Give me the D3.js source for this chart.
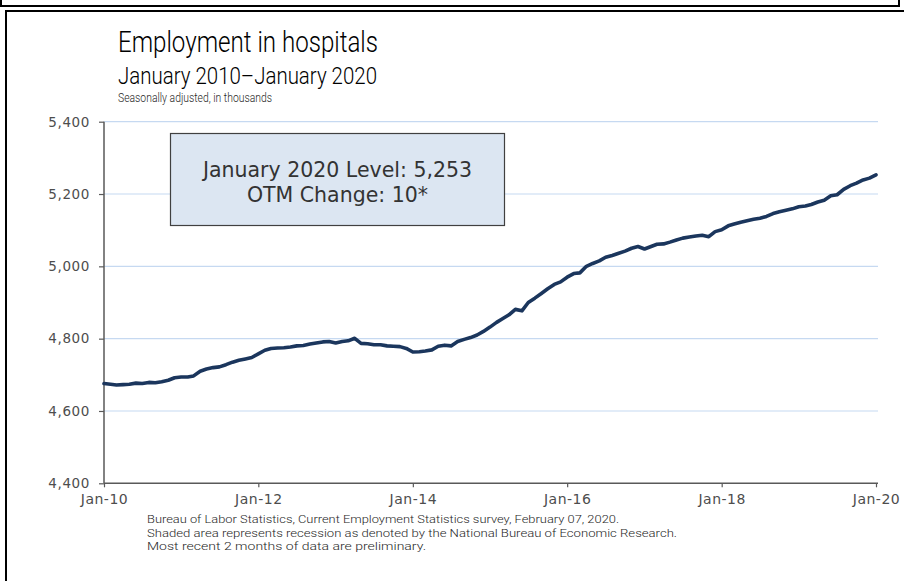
<!DOCTYPE html>
<html><head><meta charset="utf-8">
<script src="https://cdn.jsdelivr.net/npm/d3@7"></script>
<style>
html,body{margin:0;padding:0;background:#fff;}
svg{display:block;}
</style></head>
<body>
<svg id="chart" width="904" height="581"></svg>
<script>
// ---- Data (monthly, Jan 2010 – Jan 2020, thousands) ----
const startMonth = "2010-01";
const values = [
  4676, 4674, 4672, 4673, 4674, 4677, 4676, 4679, 4678, 4681, 4685, 4692,
  4694, 4694, 4697, 4710, 4716, 4720, 4722, 4728, 4735, 4740, 4744, 4748,
  4758, 4768, 4773, 4774, 4775, 4777, 4780, 4781, 4785, 4788, 4791, 4792,
  4788, 4792, 4794, 4801, 4787, 4786, 4783, 4783, 4780, 4779, 4778, 4773,
  4763, 4764, 4766, 4769, 4779, 4782, 4780, 4792, 4798, 4803, 4810, 4820,
  4832, 4845, 4855, 4866, 4881, 4877, 4900, 4912, 4925, 4938, 4950, 4957,
  4970, 4980, 4982, 5000, 5008, 5015, 5025, 5030, 5036, 5042, 5050, 5055,
  5048, 5055, 5061, 5062, 5067, 5073, 5078, 5081, 5084, 5086, 5082, 5096,
  5101, 5112, 5117, 5122, 5126, 5130, 5133, 5138, 5146, 5151, 5155, 5159,
  5165, 5167, 5171, 5178, 5183, 5195, 5198, 5213, 5223, 5230, 5239, 5244,
  5253
];
const yTicks = [4400, 4600, 4800, 5000, 5200, 5400];
const xTickLabels = ["Jan-10", "Jan-12", "Jan-14", "Jan-16", "Jan-18", "Jan-20"];
const titleText = "Employment in hospitals";
const subtitleText = "January 2010\u2013January 2020";
const unitText = "Seasonally adjusted, in thousands";
const boxLines = ["January 2020 Level: 5,253", "OTM Change: 10*"];
const footerLines = [
  "Bureau of Labor Statistics, Current Employment Statistics survey, February 07, 2020.",
  "Shaded area represents recession as denoted by the National Bureau of Economic Research.",
  "Most recent 2 months of data are preliminary."
];

// ---- Build ----
const parse = d3.timeParse("%Y-%m");
const start = parse(startMonth);
const data = values.map((v, i) => ({date: d3.timeMonth.offset(start, i), value: v}));
const xTickDates = xTickLabels.map(s => d3.timeParse("%b-%y")(s));

const svg = d3.select("#chart");
const L = 104, R = 876, T = 121.7, B = 483.3;

const x = d3.scaleTime().domain([start, data[data.length - 1].date]).range([L, R]);
const y = d3.scaleLinear().domain([4400, 5400]).range([B, T]);

// frames
svg.append("rect").attr("x", 1).attr("y", -6).attr("width", 898).attr("height", 12)
  .attr("fill", "none").attr("stroke", "#000").attr("stroke-width", 2);
svg.append("rect").attr("x", 6).attr("y", 11).attr("width", 920).attr("height", 600)
  .attr("fill", "none").attr("stroke", "#000").attr("stroke-width", 2);

// gridlines
svg.append("g").selectAll("line").data(yTicks.filter(t => t > 4400)).join("line")
  .attr("x1", L).attr("x2", R + 2)
  .attr("y1", d => y(d)).attr("y2", d => y(d))
  .attr("stroke", "#c6d9f1").attr("stroke-width", 1.2);

// y axis
const yAxis = svg.append("g").attr("transform", `translate(${L},0)`)
  .call(d3.axisLeft(y).tickValues(yTicks).tickFormat(d3.format(",")).tickSize(5).tickPadding(9));
yAxis.select(".domain").attr("stroke", "#595959").attr("stroke-width", 1.5).attr("d", `M0,${B}V${T}`);
yAxis.selectAll(".tick line").attr("stroke", "#595959").attr("stroke-width", 1.2);
yAxis.selectAll(".tick text").attr("fill", "#4d4d4d")
  .style("font-family", "'DejaVu Sans', Verdana, sans-serif").style("font-size", "13.5px")
  .style("letter-spacing", "0.6px");

// x axis
const xAxis = svg.append("g").attr("transform", `translate(0,${B})`)
  .call(d3.axisBottom(x).tickValues(xTickDates).tickFormat((d, i) => xTickLabels[i]).tickSize(4).tickPadding(7));
xAxis.select(".domain").attr("stroke", "#595959").attr("stroke-width", 1.5).attr("d", `M${L},0H${R + 2}`);
xAxis.selectAll(".tick line").attr("stroke", "#595959").attr("stroke-width", 1.2);
xAxis.selectAll(".tick text").attr("fill", "#4d4d4d")
  .style("font-family", "'DejaVu Sans', Verdana, sans-serif").style("font-size", "14px")
  .style("letter-spacing", "0.5px");

// line
svg.append("path").datum(data)
  .attr("fill", "none").attr("stroke", "#1b365d").attr("stroke-width", 3.6)
  .attr("stroke-linejoin", "round").attr("stroke-linecap", "round")
  .attr("d", d3.line().x(d => x(d.date)).y(d => y(d.value)));

// annotation box
const box = svg.append("g");
box.append("rect").attr("x", 170.5).attr("y", 133.5).attr("width", 334).attr("height", 92)
  .attr("fill", "#dce6f2").attr("stroke", "#404040").attr("stroke-width", 1.2);
box.selectAll("text").data(boxLines).join("text")
  .attr("x", 337.5).attr("y", (d, i) => 177 + i * 25)
  .attr("text-anchor", "middle").attr("fill", "#333")
  .style("font-family", "'DejaVu Sans', Verdana, sans-serif").style("font-size", "20.5px")
  .text(d => d);

// titles
svg.append("text").attr("x", 118).attr("y", 52).text(titleText)
  .attr("textLength", 260).attr("lengthAdjust", "spacingAndGlyphs")
  .attr("fill", "#000").style("font-family", "Roboto, sans-serif").style("font-weight", 300).style("font-size", "30px");
svg.append("text").attr("x", 118).attr("y", 84).text(subtitleText)
  .attr("textLength", 259).attr("lengthAdjust", "spacingAndGlyphs")
  .attr("fill", "#000").style("font-family", "Roboto, sans-serif").style("font-weight", 300).style("font-size", "24px");
svg.append("text").attr("x", 118).attr("y", 102).text(unitText)
  .attr("textLength", 154).attr("lengthAdjust", "spacingAndGlyphs")
  .attr("fill", "#262626").style("font-family", "Roboto, sans-serif").style("font-weight", 300).style("font-size", "12px");

// footer
const fl = [472, 530, 279];
svg.append("g").selectAll("text").data(footerLines).join("text")
  .attr("x", 147).attr("y", (d, i) => 523 + i * 13.5)
  .attr("textLength", (d, i) => fl[i]).attr("lengthAdjust", "spacingAndGlyphs")
  .attr("fill", "#262626").style("font-family", "Roboto, sans-serif").style("font-weight", 300).style("font-size", "11px")
  .text(d => d);
</script>
</body></html>
